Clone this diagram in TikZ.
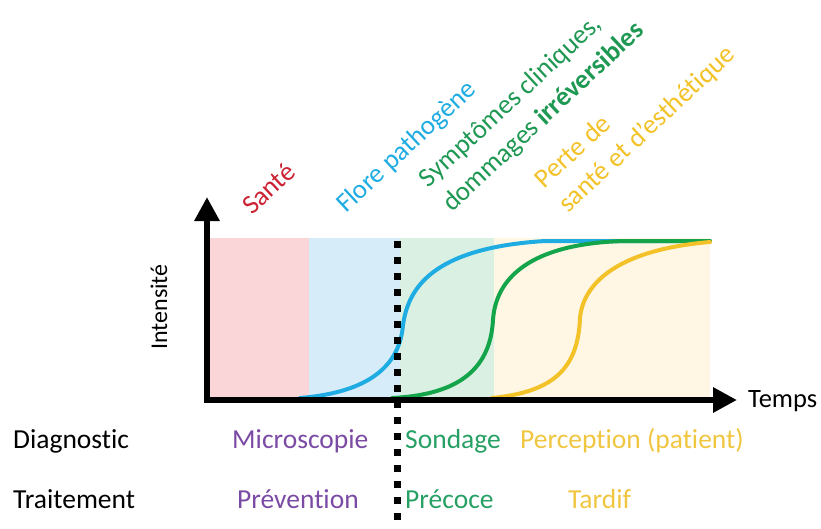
\documentclass[tikz,border=0pt]{standalone}
\usepackage{fontspec}
\setmainfont{Carlito}[Ligatures=NoCommon]
\usepackage{tikz}
\usetikzlibrary{arrows.meta,positioning,calc}
\definecolor{santered}{RGB}{204,34,52}
\definecolor{floreblue}{RGB}{30,172,226}
\definecolor{sympgreen}{RGB}{30,152,82}
\definecolor{curvegreen}{RGB}{20,165,75}
\definecolor{sondgreen}{RGB}{38,160,100}
\definecolor{pertegold}{RGB}{242,194,40}
\definecolor{percgold}{RGB}{240,198,64}
\definecolor{diagpurple}{RGB}{122,74,164}
\definecolor{bgpink}{RGB}{251,214,217}
\definecolor{bgblue}{RGB}{214,237,249}
\definecolor{bggreen}{RGB}{218,240,226}
\definecolor{bgyellow}{RGB}{255,247,228}

\begin{document}
\begin{tikzpicture}[x=1pt,y=-1pt,
  lab/.style={font=\fontsize{27.5}{32}\selectfont,inner sep=0pt,anchor=base west},
  tilt/.style={font=\fontsize{27}{34}\selectfont,inner sep=0pt,anchor=base west,rotate=43,align=left},
  curve/.style={line width=4pt,line cap=round}]
  \useasboundingbox (0,0) rectangle (821,528);

  % phases
  \fill[bgpink] (207,238) rectangle (309,400);
  \fill[bgblue] (309,238) rectangle (400,400);
  \fill[bggreen] (400,238) rectangle (494,400);
  \fill[bgyellow] (494,238) rectangle (710,400);

  % intensite au cours du temps
  \draw[curve,floreblue] (300,398) .. controls (360,393) and (399,372) .. (403,325)
    .. controls (408,290) and (430,248) .. (545,241) -- (710,241);
  \draw[curve,curvegreen] (392,398) .. controls (452,395) and (490,374) .. (493,320)
    .. controls (496,272) and (540,243) .. (625,241) -- (710,241);
  \draw[curve,pertegold] (492,398) .. controls (552,392) and (578,370) .. (580,318)
    .. controls (583,285) and (615,250) .. (710,242);

  % axes
  \coordinate (origin) at (207,400);
  \coordinate (ytip) at (207,197);
  \coordinate (xtip) at (737,400);
  \draw[line width=6pt,{Triangle[length=24pt,width=24pt]}-{Triangle[length=24pt,width=24pt]}]
    (ytip) -- (origin) -- (xtip);
  \node[lab,font=\fontsize{26.5}{32}\selectfont] (temps) at (748,407) {Temps};
  \node[font=\fontsize{24}{30}\selectfont,rotate=90,inner sep=0pt] (intens) at (159,307) {Intensité};

  % limite du diagnostic
  \coordinate (cut) at (397,241);
  \coordinate (cutend) at (397,530);
  \draw[line width=7pt,dash pattern=on 7pt off 9pt] (cut) -- (cutend);

  % etats
  \node[tilt,santered] (sante) at (252,216) {Santé};
  \node[tilt,floreblue] (flore) at (346,214) {Flore pathogène};
  \node[tilt,sympgreen] (sympt) at (452,213) {Symptômes cliniques,\\dommages \textbf{irréversibles}};
  \node[tilt,pertegold] (perte) at (568,214) {Perte de\\santé et d’esthétique};

  % diagnostic et traitement
  \node[lab] (diag) at (13,448) {Diagnostic};
  \node[lab,diagpurple] (micro) at (232,448) {Microscopie};
  \node[lab,sondgreen] (sond) at (405,448) {Sondage};
  \node[lab,percgold] (percep) at (520,448) {Perception (patient)};
  \node[lab] (trait) at (13,508) {Traitement};
  \node[lab,diagpurple] (prev) at (237,508) {Prévention};
  \node[lab,sondgreen] (precoce) at (405,508) {Précoce};
  \node[lab,percgold] (tardif) at (568,508) {Tardif};
\end{tikzpicture}
\end{document}
